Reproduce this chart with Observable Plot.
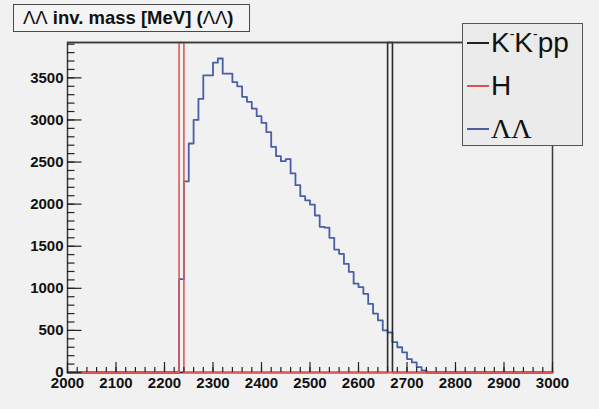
<!DOCTYPE html>
<html>
<head>
<meta charset="utf-8">
<script src="https://cdn.jsdelivr.net/npm/d3@7"></script>
<script src="https://cdn.jsdelivr.net/npm/@observablehq/plot@0.6"></script>
<style>
  html, body { margin: 0; padding: 0; background: #f1f1f1; }
  #wrap { position: relative; width: 599px; height: 409px; font-family: "Liberation Sans", Arial, sans-serif; }
  #title { position: absolute; left: 13px; top: 4px; width: 226px; height: 26px; border: 1.5px solid #4a4a4a;
           background: #f4f4f4; font-weight: bold; font-size: 18.5px; line-height: 26px; padding-left: 9px; box-sizing: content-box; color: #111; white-space: nowrap; }
  #title .g { font-weight: normal; }
  #legend { position: absolute; left: 462px; top: 23px; width: 119px; height: 121px; border: 1.5px solid #555; background: #ebebeb; }
  .row { position: absolute; left: 0; width: 119px; height: 40px; }
  .row .ln { position: absolute; left: 4px; width: 22px; top: 19px; height: 2px; }
  .row .tx { position: absolute; left: 28px; top: 0; font-size: 28px; line-height: 40px; color: #111; white-space: nowrap; }
  .row sup { font-size: 14px; vertical-align: 13px; line-height: 0; }
  .serif { font-family: "Liberation Serif", serif; }
</style>
</head>
<body>
<div id="wrap">
  <div id="chart"></div>
  <div id="title"></div>
  <div id="legend"></div>
</div>
<script>
// ---- data ----
const binWidth = 10;                 // MeV
const llStart = 2230;                // first non-empty bin of the ΛΛ histogram
const llCounts = [1110, 2270, 2720, 3000, 3250, 3530, 3530, 3680, 3730, 3550,
                  3550, 3450, 3400, 3275, 3215, 3135, 3045, 2965, 2855, 2680,
                  2570, 2510, 2535, 2365, 2225, 2095, 2045, 1995, 1865, 1730,
                  1720, 1600, 1460, 1410, 1290, 1195, 1055, 1015, 935, 815,
                  700, 620, 500, 475, 360, 300, 240, 160, 120, 65, 25];
const hBin = 2230;                   // H: single bin, off scale
const kkppBin = 2660;                // K-K-pp: single bin, off scale
const xDomain = [2000, 3000];
const yMax = 3920;
const xTickLabels = [2000, 2100, 2200, 2300, 2400, 2500, 2600, 2700, 2800, 2900, 3000];
const yTickLabels = [0, 500, 1000, 1500, 2000, 2500, 3000, 3500];
const xMinorTicks = d3.range(2000, 3001, 20);
const yMinorTicks = d3.range(0, 3901, 100);
const legendItems = [
  {html: 'K<sup>-</sup>K<sup>-</sup>pp', color: "#222"},
  {html: 'H', color: "#d9534f"},
  {html: '<span class="serif">ΛΛ</span>', color: "#4a5ea8"}
];
const titleHtml = '<span class="g">ΛΛ</span> inv. mass [MeV] (<span class="g">ΛΛ</span>)';

// ---- build step series ----
function histPoints(start, counts) {
  const pts = [{x: xDomain[0], y: 0}];
  counts.forEach((c, i) => pts.push({x: start + i * binWidth, y: c}));
  pts.push({x: start + counts.length * binWidth, y: 0});
  pts.push({x: xDomain[1], y: 0});
  return pts;
}
const llPts = histPoints(llStart, llCounts);
const hPts = histPoints(hBin, [yMax]);
const kPts = histPoints(kkppBin, [yMax]);

const W = 599, H = 409, mL = 67, mR = 47, mT = 42, mB = 37;
const frameW = W - mL - mR, frameH = H - mT - mB;

const plot = Plot.plot({
  width: W, height: H,
  marginLeft: mL, marginRight: mR, marginTop: mT, marginBottom: mB,
  x: {domain: xDomain, axis: null},
  y: {domain: [0, yMax], axis: null},
  style: {background: "transparent", fontFamily: "'Liberation Sans', Arial, sans-serif", fontSize: "15px", fontWeight: "bold", color: "#111"},
  marks: [
    Plot.frame({stroke: "#3a3a3a", strokeWidth: 1.5}),
    Plot.lineY(llPts, {x: "x", y: "y", curve: "step-after", stroke: "#4a5ea8", strokeWidth: 1.8}),
    Plot.lineY(kPts, {x: "x", y: "y", curve: "step-after", stroke: "#2a2a2a", strokeWidth: 1.6}),
    Plot.lineY(hPts, {x: "x", y: "y", curve: "step-after", stroke: "#dc5a57", strokeWidth: 1.6}),
    Plot.ruleY([yMax], {stroke: "#3a3a3a", strokeWidth: 1.5}),
    Plot.tickX(xMinorTicks, {x: d => d, stroke: "#222", strokeWidth: 1.2, insetTop: frameH - 5}),
    Plot.tickX(xTickLabels, {x: d => d, stroke: "#222", strokeWidth: 1.2, insetTop: frameH - 10}),
    Plot.tickY(yMinorTicks, {y: d => d, stroke: "#222", strokeWidth: 1.2, insetRight: frameW - 7.5}),
    Plot.tickY(yTickLabels, {y: d => d, stroke: "#222", strokeWidth: 1.2, insetRight: frameW - 14.5}),
    Plot.text(xTickLabels, {x: d => d, frameAnchor: "bottom", lineAnchor: "top", dy: 5, text: d => String(d), fill: "#111"}),
    Plot.text(yTickLabels, {y: d => d, frameAnchor: "left", textAnchor: "end", dx: -4, text: d => String(d), fill: "#111"})
  ]
});
document.getElementById("chart").appendChild(plot);

document.getElementById("title").innerHTML = titleHtml;
const leg = document.getElementById("legend");
legendItems.forEach((it, i) => {
  const row = document.createElement("div");
  row.className = "row";
  row.style.top = (-1 + i * 43) + "px";
  row.innerHTML = `<div class="ln" style="background:${it.color}"></div><div class="tx">${it.html}</div>`;
  leg.appendChild(row);
});
</script>
</body>
</html>
